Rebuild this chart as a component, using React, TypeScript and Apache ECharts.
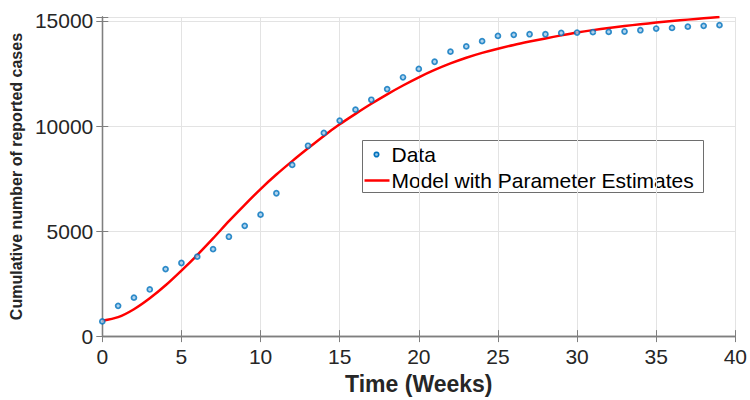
import React, { useEffect, useRef } from "react";
import * as echarts from "echarts";

// Weeks since start of reporting
const weeks: number[] = Array.from({ length: 40 }, (_, i) => i);

// Observed cumulative reported cases
const dataCases: number[] = [
  700, 1440, 1830, 2220, 3190, 3480, 3780, 4140, 4730, 5250,
  5780, 6800, 8150, 9060, 9670, 10260, 10780, 11250, 11760, 12320,
  12720, 13060, 13540, 13790, 14040, 14290, 14340, 14370, 14370, 14430,
  14450, 14470, 14480, 14500, 14560, 14640, 14670, 14730, 14770, 14800,
];

// Fitted model curve
const modelCases: number[] = [
  730, 900, 1280, 1800, 2420, 3120, 3860, 4650, 5470, 6250,
  7000, 7690, 8330, 8940, 9530, 10080, 10580, 11060, 11510, 11930,
  12320, 12670, 12980, 13250, 13480, 13680, 13860, 14020, 14170, 14315,
  14450, 14565, 14665, 14760, 14845, 14925, 15000, 15065, 15125, 15185,
];

const seriesNames = ["Data", "Model with Parameter Estimates"];

const xTicks = { min: 0, max: 40, interval: 5 };
const yTicks = { min: 0, max: 15190, interval: 5000 };

const FONT = "'Liberation Sans', Arial, Helvetica, sans-serif";
const AXIS_GRAY = "#7f7f7f";
const TEXT_DARK = "#262626";
const DATA_BLUE = "#0072BD";
const MODEL_RED = "#ff0000";

export default function App() {
  const ref = useRef<HTMLDivElement>(null);

  useEffect(() => {
    document.body.style.margin = "0";
    if (!ref.current) return;
    const chart = echarts.init(ref.current, undefined, { renderer: "svg" });

    const tickStyle = { inside: true, length: 6, lineStyle: { color: AXIS_GRAY, width: 1 } };
    const lineStyle = { lineStyle: { color: AXIS_GRAY, width: 1.3 } };

    // Legend box drawn as a small graphic group
    const legendBox = { x: 362, y: 140, w: 341, h: 52 };
    const legendGraphic = {
      type: "group",
      left: legendBox.x,
      top: legendBox.y,
      z: 100,
      children: [
        {
          type: "rect",
          shape: { x: 0, y: 0, width: legendBox.w, height: legendBox.h },
          style: { fill: "#ffffff", stroke: "#6e6e6e", lineWidth: 1 },
        },
        {
          type: "circle",
          shape: { cx: 14, cy: 14, r: 2.2 },
          style: { fill: "#9cc8e8", stroke: DATA_BLUE, lineWidth: 1.7 },
        },
        {
          type: "text",
          x: 29,
          y: 14,
          style: {
            text: seriesNames[0],
            font: `21px ${FONT}`,
            fill: "#000000",
            verticalAlign: "middle",
          },
        },
        {
          type: "line",
          shape: { x1: 2, y1: 40, x2: 27, y2: 40 },
          style: { stroke: MODEL_RED, lineWidth: 2.5 },
        },
        {
          type: "text",
          x: 29,
          y: 40,
          style: {
            text: seriesNames[1],
            font: `21px ${FONT}`,
            fill: "#000000",
            verticalAlign: "middle",
          },
        },
      ],
    };

    chart.setOption({
      animation: false,
      backgroundColor: "#ffffff",
      grid: { left: 102, right: 13, top: 17, bottom: 60, containLabel: false },
      graphic: [legendGraphic],
      xAxis: [
        {
          type: "value",
          min: xTicks.min,
          max: xTicks.max,
          interval: xTicks.interval,
          position: "bottom",
          name: "Time (Weeks)",
          nameLocation: "middle",
          nameGap: 33,
          nameTextStyle: { fontFamily: FONT, fontSize: 23, fontWeight: "bold", color: TEXT_DARK },
          axisLine: { show: true, ...lineStyle },
          axisTick: tickStyle,
          axisLabel: { fontFamily: FONT, fontSize: 21, color: TEXT_DARK, margin: 10 },
          splitLine: { show: true, lineStyle: { color: "#e3e3e3", width: 1 } },
        },
        {
          type: "value",
          min: xTicks.min,
          max: xTicks.max,
          interval: xTicks.interval,
          position: "top",
          axisLine: { show: true, ...lineStyle },
          axisTick: tickStyle,
          axisLabel: { show: false },
          splitLine: { show: false },
        },
      ],
      yAxis: [
        {
          type: "value",
          min: yTicks.min,
          max: yTicks.max,
          interval: yTicks.interval,
          position: "left",
          name: "Cumulative number of reported cases",
          nameLocation: "middle",
          nameGap: 78,
          nameTextStyle: { fontFamily: FONT, fontSize: 16, fontWeight: "bold", color: TEXT_DARK },
          axisLine: { show: true, ...lineStyle },
          axisTick: tickStyle,
          axisLabel: {
            fontFamily: FONT,
            fontSize: 21,
            color: TEXT_DARK,
            margin: 9,
            formatter: (v: number) => (v % yTicks.interval === 0 ? String(v) : ""),
          },
          splitLine: { show: true, lineStyle: { color: "#e3e3e3", width: 1 } },
        },
        {
          type: "value",
          min: yTicks.min,
          max: yTicks.max,
          interval: yTicks.interval,
          position: "right",
          axisLine: { show: true, ...lineStyle },
          axisTick: tickStyle,
          axisLabel: { show: false },
          splitLine: { show: false },
        },
      ],
      series: [
        {
          name: seriesNames[0],
          type: "scatter",
          xAxisIndex: 0,
          yAxisIndex: 0,
          symbol: "circle",
          symbolSize: 5,
          itemStyle: { color: "#9cc8e8", borderColor: DATA_BLUE, borderWidth: 1.7 },
          data: weeks.map((w, i) => [w, dataCases[i]]),
          z: 3,
        },
        {
          name: seriesNames[1],
          type: "line",
          xAxisIndex: 0,
          yAxisIndex: 0,
          smooth: 0.3,
          showSymbol: false,
          symbol: "none",
          lineStyle: { color: MODEL_RED, width: 2.5 },
          data: weeks.map((w, i) => [w, modelCases[i]]),
          z: 2,
        },
      ],
    });

    return () => chart.dispose();
  }, []);

  return <div ref={ref} style={{ width: 750, height: 400 }} />;
}
